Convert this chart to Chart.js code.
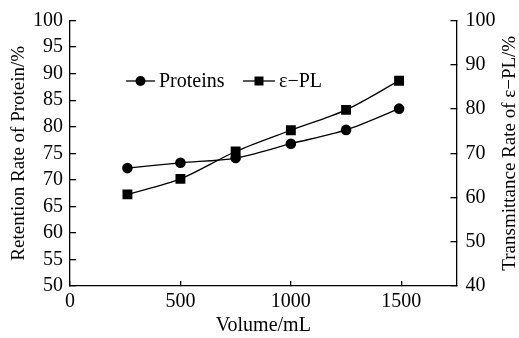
<!DOCTYPE html>
<html>
<head>
<meta charset="utf-8">
<script src="https://cdn.jsdelivr.net/npm/chart.js@4"></script>
<style>
html, body { margin: 0; padding: 0; background: #fff; }
#wrap { width: 519px; height: 338px; }
</style>
</head>
<body>
<div id="wrap"><canvas id="chart" width="519" height="338"></canvas></div>
<script>

// data
const volumes = [260, 500, 750, 1000, 1250, 1490];
const proteinRetention = [72.2, 73.2, 74.1, 76.8, 79.4, 83.4];
const plTransmittance = [60.7, 64.2, 70.4, 75.2, 79.8, 86.4];
const seriesLabels = ['Proteins', 'ε−PL'];
const xTickValues = [0, 500, 1000, 1500];

const serif = 'Liberation Serif';


function toPoints(xs, ys){
    let pts = [];
    for(let i=0; i<xs.length; i++){
        pts.push({x: xs[i], y: ys[i]});
    }
    return pts;
}

const plain = (v) => String(v);

// fixed axis box sizes, no extra label padding
function fixWidth(w){
    return (scale) => {
        scale.width = w;
        scale.paddingTop = 0;
        scale.paddingBottom = 0;
    };
}


// legend drawn as line + marker + text, inside the plot
const lineLegend = {
    id: 'lineLegend',
    afterDraw(chart, args, opts){
        const ctx = chart.ctx;
        ctx.save();
        ctx.font = opts.size + 'px "' + serif + '"';
        ctx.textBaseline = 'middle';
        ctx.fillStyle = '#000';
        ctx.strokeStyle = '#000';
        ctx.lineWidth = 1.3;
        chart.data.datasets.forEach((ds, i) => {
            const it = opts.items[i];
            const y = opts.y;
            ctx.beginPath();
            ctx.moveTo(it.x, y);
            ctx.lineTo(it.x + it.w, y);
            ctx.stroke();
            const cx = it.x + it.w/2;
            ctx.beginPath();
            if(ds.pointStyle === 'rect'){
                ctx.rect(cx - 4.5, y - 4.5, 9, 9);
            } else {
                ctx.arc(cx, y, 5, 0, Math.PI*2);
            }
            ctx.fill();
            ctx.fillText(ds.label, it.x + it.w + 4, y + 1);
        });
        ctx.restore();
    }
};


// the right title reads bottom to top, like the left one
const rightTitle = {
    id: 'rightTitle',
    afterDraw(chart, args, opts){
        const ctx = chart.ctx;
        const area = chart.chartArea;
        ctx.save();
        ctx.font = opts.size + 'px "' + serif + '"';
        ctx.fillStyle = '#000';
        ctx.textAlign = 'center';
        ctx.textBaseline = 'middle';
        ctx.translate(opts.x, (area.top + area.bottom)/2);
        ctx.rotate(-Math.PI/2);
        ctx.fillText(opts.text, 0, 0);
        ctx.restore();
    }
};


let ctx = document.getElementById('chart');

let config = {
    type: 'line',
    data: {
        datasets: [
            {
                label: seriesLabels[0],
                data: toPoints(volumes, proteinRetention),
                yAxisID: 'y',
                borderColor: '#000',
                backgroundColor: '#000',
                borderWidth: 1.3,
                pointStyle: 'circle',
                pointRadius: 5.3,
                pointBorderWidth: 0,
                tension: 0.3
            },
            {
                label: seriesLabels[1],
                data: toPoints(volumes, plTransmittance),
                yAxisID: 'y2',
                borderColor: '#000',
                backgroundColor: '#000',
                borderWidth: 1.3,
                pointStyle: 'rect',
                pointRadius: 7,
                pointBorderWidth: 0,
                tension: 0.3
            }
        ]
    },
    options: {
        responsive: false,
        animation: false,
        layout: {
            padding: {top: 20.5, left: 0, right: 0, bottom: 0}
        },
        plugins: {
            legend: { display: false },
            tooltip: { enabled: false },
            lineLegend: {
                size: 20,
                y: 81,
                items: [{x: 126, w: 29}, {x: 243, w: 32}]
            },
            rightTitle: {
                text: 'Transmittance Rate of ε−PL/%',
                size: 19,
                x: 510
            }
        },
        scales: {
            x: {
                type: 'linear',
                position: 'bottom',
                min: 0,
                max: 1750,
                afterBuildTicks: (scale) => {
                    scale.ticks = xTickValues.map(v => ({value: v}));
                },
                afterFit: (scale) => { scale.height = 52; },
                border: { display: true, color: '#000', width: 1.3 },
                grid: { drawOnChartArea: false, drawTicks: true, tickLength: -5, color: '#000', lineWidth: 1.3 },
                ticks: { color: '#000', padding: 9, maxRotation: 0, callback: plain, font: {family: serif, size: 20} },
                title: { display: true, text: 'Volume/mL', color: '#000', padding: {top: 9, bottom: 0}, font: {family: serif, size: 20} }
            },
            y: {
                position: 'left',
                min: 50,
                max: 100,
                ticks: { stepSize: 5, autoSkip: false, color: '#000', padding: 13, callback: plain, font: {family: serif, size: 20} },
                afterFit: fixWidth(70),
                border: { display: true, color: '#000', width: 1.3 },
                grid: { drawOnChartArea: false, drawTicks: true, tickLength: -6, color: '#000', lineWidth: 1.3 },
                title: { display: true, text: 'Retention Rate of Protein/%', color: '#000', padding: {top: 8, bottom: 0}, font: {family: serif, size: 19} }
            },
            y2: {
                position: 'right',
                min: 40,
                max: 100,
                ticks: { stepSize: 10, autoSkip: false, color: '#000', padding: 15, callback: plain, font: {family: serif, size: 20} },
                afterFit: fixWidth(62.5),
                border: { display: true, color: '#000', width: 1.3 },
                grid: { drawOnChartArea: false, drawTicks: true, tickLength: -6, color: '#000', lineWidth: 1.3 }
            }
        }
    },
    plugins: [lineLegend, rightTitle]
};

new Chart(ctx, config);

</script>
</body>
</html>
